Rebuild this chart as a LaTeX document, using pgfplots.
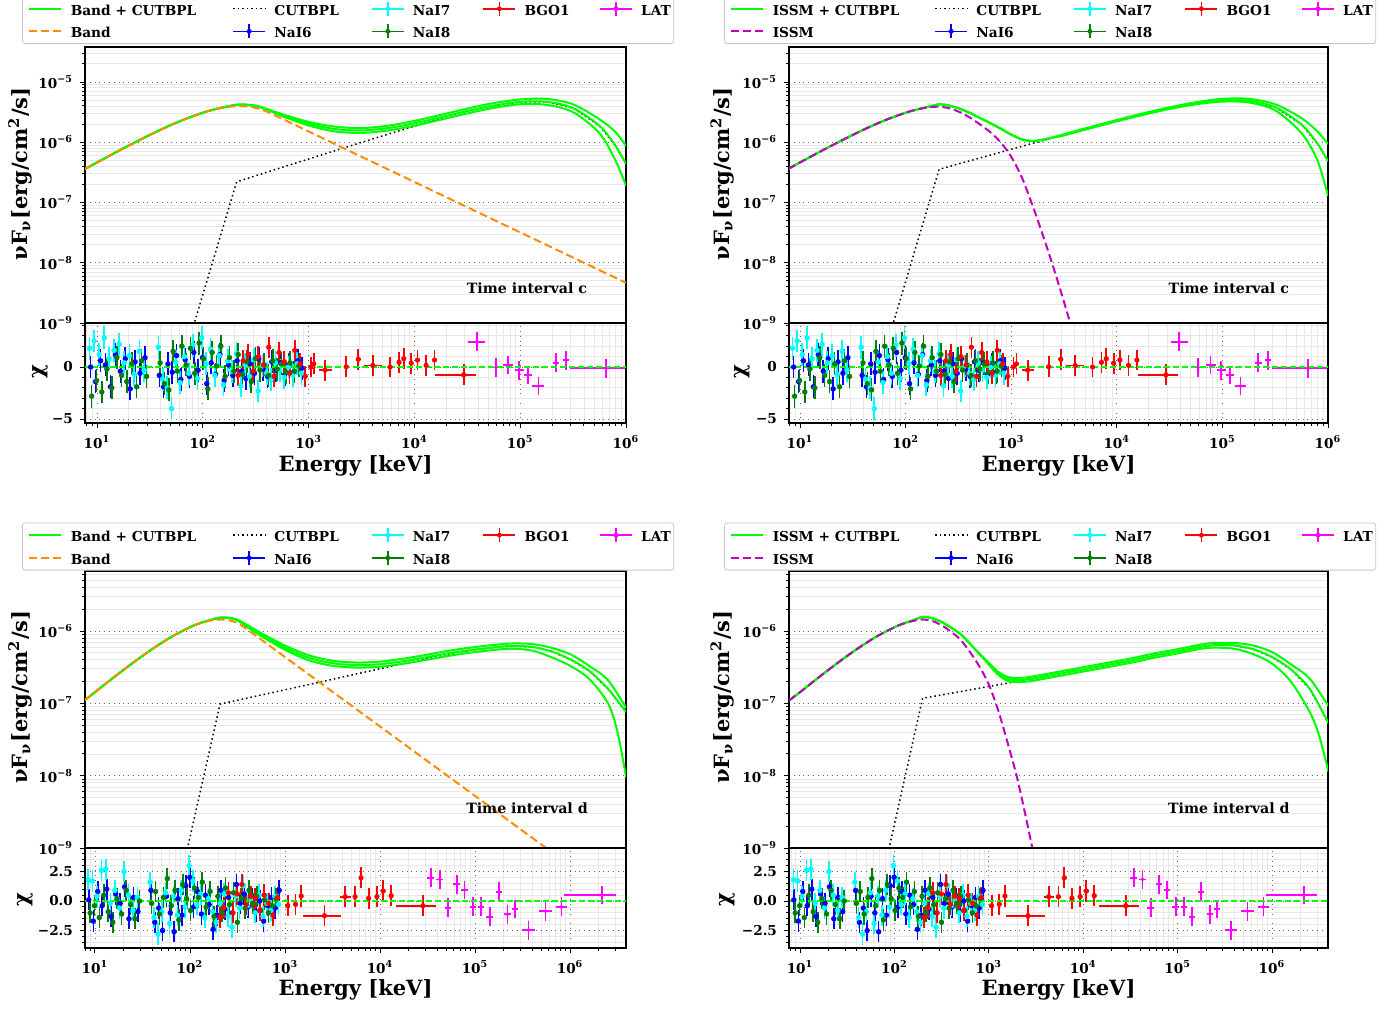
\documentclass[border=0pt]{standalone}
\usepackage{fontspec}
\setmainfont{DejaVu Serif}
\usepackage{pgfplots}
\pgfplotsset{compat=1.18}
\usepackage{pgfplotstable}

\definecolor{cLime}{HTML}{00FF00}
\definecolor{cOrange}{HTML}{FF8C00}
\definecolor{cMagD}{HTML}{BF00BF}
\definecolor{cBlue}{HTML}{0000FF}
\definecolor{cCyan}{HTML}{00FFFF}
\definecolor{cDGreen}{HTML}{008000}
\definecolor{cRed}{HTML}{FF0000}
\definecolor{cMag}{HTML}{FF00FF}

\newcommand\tickfont{\fontsize{6.8}{7}\selectfont\bfseries}
\newcommand\legfont{\fontsize{6.85}{8}\selectfont\bfseries}
\newcommand\labfont{\fontsize{10.5}{12}\selectfont\bfseries}
\newcommand\tifont{\fontsize{7.1}{8}\selectfont\bfseries}
\newcommand\tp[1]{10\textsuperscript{#1}}
\newcommand\lt[2]{\makebox[#1][l]{\hspace{4.2pt}\rule[-3.2pt]{0pt}{11pt}#2}}

\tikzset{
  gl/.style={cLime, line width=1pt, smooth, tension=0.5},
  ctl/.style={black, line width=0.75pt, dash pattern=on 0.75pt off 1.5pt},
  bnd/.style={cOrange, line width=1pt, dash pattern=on 4pt off 2pt, smooth, tension=0.5},
  ism/.style={cMagD, line width=1pt, dash pattern=on 4pt off 2pt, smooth, tension=0.5},
  zl/.style={cLime, line width=0.9pt, dash pattern=on 3pt off 1.5pt},
}

\newcommand\legA{%
  \addlegendimage{legend image code/.code={\draw[cLime, line width=1pt] (0pt,0pt) -- (16pt,0pt);}}
  \addlegendimage{legend image code/.code={\draw[black, line width=0.75pt, dash pattern=on 0.75pt off 1.5pt] (0pt,0pt) -- (16pt,0pt);}}
  \addlegendimage{legend image code/.code={\draw[cCyan, line width=0.8pt] (0pt,0pt) -- (16pt,0pt); \draw[cCyan, line width=0.8pt] (8pt,-3.5pt) -- (8pt,3.5pt); \fill[cCyan] (8pt,0pt) circle (1pt);}}
  \addlegendimage{legend image code/.code={\draw[cRed, line width=0.8pt] (0pt,0pt) -- (16pt,0pt); \draw[cRed, line width=0.8pt] (8pt,-3.5pt) -- (8pt,3.5pt); \fill[cRed] (8pt,0pt) circle (1pt);}}
  \addlegendimage{legend image code/.code={\draw[cMag, line width=0.8pt] (0pt,0pt) -- (16pt,0pt); \draw[cMag, line width=0.8pt] (8pt,-3.5pt) -- (8pt,3.5pt); \fill[cMag] (8pt,0pt) circle (1pt);}}
}
\newcommand\legBand{\addlegendimage{legend image code/.code={\draw[cOrange, line width=1pt, dash pattern=on 4pt off 2pt] (0pt,0pt) -- (16pt,0pt);}}}
\newcommand\legIssm{\addlegendimage{legend image code/.code={\draw[cMagD, line width=1pt, dash pattern=on 4pt off 2pt] (0pt,0pt) -- (16pt,0pt);}}}
\newcommand\legB{%
  \addlegendimage{legend image code/.code={\draw[cBlue, line width=0.8pt] (0pt,0pt) -- (16pt,0pt); \draw[cBlue, line width=0.8pt] (8pt,-3.5pt) -- (8pt,3.5pt); \fill[cBlue] (8pt,0pt) circle (1pt);}}
  \addlegendimage{legend image code/.code={\draw[cDGreen, line width=0.8pt] (0pt,0pt) -- (16pt,0pt); \draw[cDGreen, line width=0.8pt] (8pt,-3.5pt) -- (8pt,3.5pt); \fill[cDGreen] (8pt,0pt) circle (1pt);}}
  \addlegendimage{empty legend}
  \addlegendimage{empty legend}
}

% ---------- residuals, time interval c ----------
\pgfplotstableread{
E r
8.7 0.0
9.7 -1.4
10.8 0.6
12.0 0.2
13.4 -1.9
14.9 1.2
16.6 -0.4
18.5 0.8
20.6 -2.1
22.9 0.5
25.5 -0.6
28.4 0.9
38.8 -0.8
42.6 -1.9
46.8 0.3
51.4 -0.5
56.5 1.1
62.0 -1.2
68.1 0.7
74.8 -0.9
82.2 1.4
90.3 -0.3
99.3 0.9
109 -1.6
120 0.4
132 -0.7
145 1.2
159 -1.3
175 0.2
192 -0.8
211 0.6
232 -0.4
255 -1.1
280 0.3
308 -0.6
338 0.8
372 -0.2
409 -0.9
449 0.5
493 -0.3
542 0.4
596 -0.7
655 0.2
719 -0.5
790 0.6
868 -0.1
}\cSix
\pgfplotstableread{
E r
8.5 1.8
9.4 2.5
10.5 1.2
11.7 2.8
13.0 0.8
14.5 1.6
16.2 2.2
18.1 0.4
20.2 1.1
22.5 -0.7
25.1 1.5
27.9 -0.3
38.0 1.9
41.8 -1.2
46.0 -2.0
50.5 -4.0
55.5 0.5
61.0 -1.5
67.0 1.0
73.6 -0.6
80.9 2.1
88.9 -1.1
97.7 2.8
107.4 0.3
118 1.7
130 -0.8
143 1.1
157 -1.7
172 0.6
189 -0.4
208 1.3
229 -1.8
251 0.2
276 -0.9
303 0.7
333 -2.3
366 0.1
402 -0.6
442 -1.2
486 0.4
534 -0.3
587 -1.0
645 0.0
709 -0.8
779 0.3
856 -0.6
}\cSeven
\pgfplotstableread{
E r
8.9 -2.8
9.9 -1.3
11.1 -2.4
12.4 -0.2
13.8 -2.0
15.4 0.9
17.1 -0.8
19.1 -1.4
21.3 0.3
23.7 -1.9
26.4 0.6
29.4 -0.9
39.5 0.4
43.4 -1.6
47.7 -2.2
52.4 1.5
57.6 -0.4
63.3 2.0
69.5 0.2
76.4 1.8
84.0 -0.6
92.3 2.3
101.4 0.8
111.5 -2.1
122.5 1.4
134.6 0.1
148 2.0
162.6 -0.9
178.7 0.9
196.4 -0.4
215.8 1.2
237 -0.7
261 0.5
287 -1.4
315 0.8
346 -0.3
380 0.2
418 -0.8
459 0.6
504 -0.2
554 0.3
609 -0.5
669 0.4
735 -0.4
808 0.1
}\cEight
\pgfplotstableread{
E r em ep
215 -0.8 6 6
240 0.6 7 7
268 1.2 8 8
300 -0.4 9 9
335 1.0 10 10
375 0.2 11 11
420 1.9 12 12
470 -0.9 14 14
525 1.4 15 15
590 0.5 17 17
660 -0.6 19 19
740 1.6 21 21
830 0.3 24 24
930 -0.9 27 27
1050 0.0 40 40
1120 0.3 45 45
1430 -0.3 170 230
2265 0.03 120 130
2950 0.74 150 160
4040 0.15 730 860
5890 0.0 300 320
7160 0.45 350 370
7940 0.8 380 400
9330 0.37 450 470
10700 0.67 500 530
12900 0.16 620 650
15500 0.67 750 780
29200 -0.75 13400 8800
}\cBGO
\pgfplotstableread{
E r em ep
38800 2.43 6400 8000
58900 -0.05 9000 11000
77300 0.19 8000 9000
97700 -0.32 9000 10000
117500 -0.77 10000 12000
148600 -1.83 18000 20000
217800 0.42 15000 17000
269200 0.64 18000 20000
645700 -0.13 350000 330000
}\cLAT

% ---------- residuals, time interval d ----------
\pgfplotstableread{
E r
8.6 0.1
9.6 -1.7
10.7 0.8
11.9 -0.4
13.3 1.0
14.8 -1.3
16.5 0.6
18.4 -0.2
20.5 1.2
22.8 -1.5
25.4 0.3
28.3 -0.9
38.8 0.9
42.6 -1.8
46.8 -0.6
51.4 -2.5
56.5 0.4
62.0 -1.0
68.1 -2.6
74.8 0.2
82.2 -1.2
90.3 1.3
99.3 2.0
109 -0.5
120 0.8
132 -1.1
145 0.5
159 -0.3
175 -2.4
192 -1.2
211 0.9
232 -0.7
255 0.3
280 -1.0
308 1.4
338 -0.2
372 0.6
409 -0.5
449 0.2
493 -0.9
542 0.0
596 -1.7
655 -0.4
719 0.3
790 -0.6
868 0.9
}\dSix
\pgfplotstableread{
E r
8.5 1.8
9.4 1.7
10.5 0.4
11.7 2.6
13.0 2.7
14.5 -0.2
16.2 0.9
18.1 -0.6
20.2 2.5
22.5 0.5
25.1 -0.8
27.9 0.3
38.0 1.6
41.8 -1.4
46.0 -2.8
50.5 -0.9
55.5 0.7
61.0 -1.9
67.0 0.4
73.6 -1.2
80.9 0.9
88.9 -0.5
97.7 3.0
107.4 1.7
118 -0.3
130 0.6
143 -1.4
157 0.2
172 -0.9
189 -1.8
208 -0.2
229 0.6
251 -1.3
276 -2.2
303 0.4
333 -0.6
366 1.3
402 -0.4
442 0.2
486 -1.0
534 0.5
587 -1.3
645 -0.2
709 -0.8
779 0.4
856 -0.3
}\dSeven
\pgfplotstableread{
E r
8.9 -1.0
9.9 -0.4
11.1 -1.4
12.4 0.5
13.8 -0.9
15.4 -1.8
17.1 0.2
19.1 -1.1
21.3 0.9
23.7 -0.3
26.4 -1.5
29.4 0.0
39.5 -0.2
43.4 0.8
47.7 -1.1
52.4 0.3
57.6 1.9
63.3 -0.4
69.5 0.9
76.4 -1.6
84.0 1.4
92.3 0.2
101.4 -0.8
111.5 1.1
122.5 0.3
134.6 1.6
148 -0.5
162.6 0.8
178.7 -1.3
196.4 0.4
215.8 -0.9
237 1.1
261 -0.3
287 0.7
315 -1.8
346 0.2
380 -0.6
418 0.9
459 -0.2
504 0.4
554 -0.8
609 0.1
669 -1.0
735 -0.4
808 0.2
}\dEight
\pgfplotstableread{
E r em ep
205 -1.4 6 6
228 -0.6 7 7
254 0.7 8 8
283 -1.0 9 9
315 0.6 10 10
351 1.4 11 11
391 -0.3 12 12
436 0.4 13 13
486 0.2 15 15
541 -0.8 16 16
603 0.5 18 18
672 -0.2 20 20
748 -1.2 22 22
834 0.3 25 25
1070 -0.4 60 60
1290 -0.28 70 70
1480 0.42 80 80
2600 -1.24 1070 1290
4300 0.37 500 600
5460 0.37 300 300
6310 1.97 350 350
7590 0.23 400 400
9270 0.37 500 500
10800 0.85 600 600
13100 0.45 700 700
28200 -0.4 13400 10700
}\dBGO
\pgfplotstableread{
E r em ep
34300 1.98 3000 3000
42500 1.83 3500 3500
51800 -0.56 4000 4000
64000 1.41 5000 5000
77300 0.93 6000 6000
95700 -0.48 7500 7500
116400 -0.48 9000 9000
142900 -1.33 11000 11000
178600 0.79 14000 14000
219300 -1.13 17000 17000
262400 -0.68 20000 20000
365600 -2.46 50000 60000
550800 -0.85 83000 95000
811000 -0.48 103000 122000
2168000 0.51 1297000 852000
}\dLAT

\begin{document}
\begin{tikzpicture}
\useasboundingbox (0pt,0pt) rectangle (698.5pt,-505pt);

% ================= TOP LEFT =================
\begin{axis}[scale only axis, xmode=log, ymode=log, tick align=outside,
  major tick length=2.5pt, minor tick length=1.4pt,
  tick style={black, line width=0.5pt}, axis line style={line width=0.8pt},
  tick label style={font=\tickfont},
  major grid style={dotted, black!60, line width=0.45pt}, minor grid style={black!9, line width=0.4pt},
  ytick pos=left, xtick=\empty, ymajorgrids, yminorgrids,
  minor ytick={2e-9,3e-9,4e-9,5e-9,6e-9,7e-9,8e-9,9e-9,2e-8,3e-8,4e-8,5e-8,6e-8,7e-8,8e-8,9e-8,2e-7,3e-7,4e-7,5e-7,6e-7,7e-7,8e-7,9e-7,2e-6,3e-6,4e-6,5e-6,6e-6,7e-6,8e-6,9e-6,2e-5,3e-5},
  ylabel={νF\textsubscript{ν}[erg/cm\textsuperscript{2}/s]},
  ylabel style={font=\labfont, anchor=center, at={(axis description cs:-0.12,0.54)}},
  legend columns=5, legend cell align=left,
  legend style={draw=black!22, rounded corners=1.5pt, fill=white, inner xsep=3pt, inner ysep=1.5pt,
    column sep=0pt, row sep=2pt, font=\legfont, nodes={inner sep=0pt}, anchor=north west, at={(-0.1165,1.1847)}},
  at={(42.5pt,-23.5pt)}, anchor=north west, width=270.5pt, height=138pt,
  xmin=7.70, xmax=1e6, ymin=1e-9, ymax=3.81e-5,
  ytick={1e-9,1e-8,1e-7,1e-6,1e-5}, yticklabels={\tp{−9},\tp{−8},\tp{−7},\tp{−6},\tp{−5}}]
\legA
\legBand
\legB
\legend{\lt{85pt}{Band + CUTBPL},\lt{52.5pt}{CUTBPL},\lt{39pt}{NaI7},\lt{41.5pt}{BGO1},\lt{17.5pt}{LAT},\lt{85pt}{Band},\lt{52.5pt}{NaI6},\lt{39pt}{NaI8},\lt{41.5pt}{},\lt{17.5pt}{}}
\addplot[ctl, forget plot] coordinates {(79.4,7.64e-10) (208.9,2.20e-7) (316.2,2.78e-7) (562.3,3.84e-7) (1000,5.27e-7) (1778,7.26e-7) (3162,9.95e-7) (5623,1.36e-6) (1e4,1.85e-6) (17783,2.47e-6) (31623,3.22e-6) (56234,4.02e-6) (1e5,4.65e-6) (177828,4.68e-6) (316228,3.68e-6) (562341,1.87e-6) (794328,8.81e-7) (1e6,4.35e-7)};
\addplot[gl, forget plot] coordinates {(7.71,3.60e-7) (10,4.62e-7) (15.85,7.13e-7) (25.12,1.084e-6) (39.81,1.61e-6) (63.1,2.30e-6) (100,3.09e-6) (125.9,3.48e-6) (158.5,3.82e-6) (208.9,4.18e-6) (251.2,4.20e-6) (316.2,4.06e-6) (398.1,3.59e-6) (562.3,2.92e-6) (1000,2.18e-6) (1778,1.815e-6) (3162,1.72e-6) (5623,1.88e-6) (1e4,2.26e-6) (17783,2.85e-6) (31623,3.62e-6) (56234,4.47e-6) (1e5,5.13e-6) (177828,5.25e-6) (316228,4.27e-6) (562341,2.40e-6) (794328,1.48e-6) (1e6,8.71e-7)};
\addplot[gl, forget plot] coordinates {(7.71,3.60e-7) (10,4.62e-7) (15.85,7.13e-7) (25.12,1.084e-6) (39.81,1.61e-6) (63.1,2.30e-6) (100,3.09e-6) (125.9,3.48e-6) (158.5,3.82e-6) (208.9,4.18e-6) (251.2,4.20e-6) (316.2,4.00e-6) (398.1,3.56e-6) (562.3,2.82e-6) (1000,2.03e-6) (1778,1.656e-6) (3162,1.57e-6) (5623,1.72e-6) (1e4,2.065e-6) (17783,2.60e-6) (31623,3.30e-6) (56234,4.07e-6) (1e5,4.68e-6) (177828,4.69e-6) (316228,3.68e-6) (562341,1.87e-6) (794328,8.81e-7) (1e6,4.35e-7)};
\addplot[gl, forget plot] coordinates {(7.71,3.60e-7) (10,4.62e-7) (15.85,7.13e-7) (25.12,1.084e-6) (39.81,1.61e-6) (63.1,2.30e-6) (100,3.09e-6) (125.9,3.48e-6) (158.5,3.82e-6) (208.9,4.18e-6) (251.2,4.20e-6) (316.2,3.94e-6) (398.1,3.53e-6) (562.3,2.72e-6) (1000,1.90e-6) (1778,1.51e-6) (3162,1.43e-6) (5623,1.567e-6) (1e4,1.88e-6) (17783,2.37e-6) (31623,3.01e-6) (56234,3.72e-6) (1e5,4.27e-6) (177828,4.17e-6) (316228,3.16e-6) (562341,1.41e-6) (794328,5.01e-7) (1e6,1.905e-7)};
\addplot[bnd, forget plot] coordinates {(7.71,3.60e-7) (10,4.62e-7) (15.85,7.13e-7) (25.12,1.084e-6) (39.81,1.61e-6) (63.1,2.30e-6) (100,3.09e-6) (125.9,3.47e-6) (158.5,3.78e-6) (199.5,3.95e-6) (251.2,3.95e-6) (316.2,3.72e-6) (411,3.17e-6) (1000,1.51e-6) (1e4,2.19e-7) (1e5,3.19e-8) (1e6,4.65e-9)};
\node[font=\tifont] at (rel axis cs:0.817,0.127) {Time interval c};
\end{axis}

\begin{axis}[scale only axis, xmode=log, tick align=outside,
  major tick length=2.5pt, minor tick length=1.4pt,
  tick style={black, line width=0.5pt}, axis line style={line width=0.8pt},
  tick label style={font=\tickfont},
  major grid style={dotted, black!60, line width=0.45pt}, minor grid style={black!9, line width=0.4pt},
  xtick pos=bottom, ytick pos=left, grid=both,
  xtick={10,100,1000,10000,100000,1000000}, xticklabels={\tp{1},\tp{2},\tp{3},\tp{4},\tp{5},\tp{6}},
  minor xtick={8,9,20,30,40,50,60,70,80,90,200,300,400,500,600,700,800,900,2000,3000,4000,5000,6000,7000,8000,9000,2e4,3e4,4e4,5e4,6e4,7e4,8e4,9e4,2e5,3e5,4e5,5e5,6e5,7e5,8e5,9e5},
  xlabel={Energy [keV]}, xlabel style={font=\labfont, at={(axis description cs:0.5,-0.43)}, anchor=center},
  ylabel={χ}, ylabel style={font=\labfont, anchor=center, at={(axis description cs:-0.083,0.51)}},
  ymin=-5.38, ymax=4.23, ytick={-5,0}, yticklabels={−5,0}, minor ytick={-4,-3,-2,-1,1,2,3,4},
  at={(42.5pt,-161.5pt)}, anchor=north west, width=270.5pt, height=50pt, xmin=7.70, xmax=1e6]
\addplot[only marks, mark=*, mark size=1.15pt, color=cBlue, error bars/.cd, y dir=both, y fixed=1.1, error mark=none, error bar style={line width=0.8pt,cBlue}] table[x=E,y=r] {\cSix};
\addplot[only marks, mark=*, mark size=1.15pt, color=cCyan, error bars/.cd, y dir=both, y fixed=1.1, error mark=none, error bar style={line width=0.8pt,cCyan}] table[x=E,y=r] {\cSeven};
\addplot[only marks, mark=*, mark size=1.15pt, color=cDGreen, error bars/.cd, y dir=both, y fixed=1.1, error mark=none, error bar style={line width=0.8pt,cDGreen}] table[x=E,y=r] {\cEight};
\addplot[only marks, mark=*, mark size=1.1pt, color=cRed, error bars/.cd, x dir=both, x explicit, y dir=both, y fixed=1.0, error mark=none, error bar style={line width=0.9pt,cRed}] table[x=E,y=r,x error minus=em,x error plus=ep] {\cBGO};
\addplot[only marks, mark=*, mark size=0.7pt, color=cMag, error bars/.cd, x dir=both, x explicit, y dir=both, y fixed=0.9, error mark=none, error bar style={line width=0.9pt,cMag}] table[x=E,y=r,x error minus=em,x error plus=ep] {\cLAT};
\addplot[zl] coordinates {(5,0) (5e6,0)};
\end{axis}

% ================= TOP RIGHT =================
\begin{axis}[scale only axis, xmode=log, ymode=log, tick align=outside,
  major tick length=2.5pt, minor tick length=1.4pt,
  tick style={black, line width=0.5pt}, axis line style={line width=0.8pt},
  tick label style={font=\tickfont},
  major grid style={dotted, black!60, line width=0.45pt}, minor grid style={black!9, line width=0.4pt},
  ytick pos=left, xtick=\empty, ymajorgrids, yminorgrids,
  minor ytick={2e-9,3e-9,4e-9,5e-9,6e-9,7e-9,8e-9,9e-9,2e-8,3e-8,4e-8,5e-8,6e-8,7e-8,8e-8,9e-8,2e-7,3e-7,4e-7,5e-7,6e-7,7e-7,8e-7,9e-7,2e-6,3e-6,4e-6,5e-6,6e-6,7e-6,8e-6,9e-6,2e-5,3e-5},
  ylabel={νF\textsubscript{ν}[erg/cm\textsuperscript{2}/s]},
  ylabel style={font=\labfont, anchor=center, at={(axis description cs:-0.124,0.54)}},
  legend columns=5, legend cell align=left,
  legend style={draw=black!22, rounded corners=1.5pt, fill=white, inner xsep=3pt, inner ysep=1.5pt,
    column sep=0pt, row sep=2pt, font=\legfont, nodes={inner sep=0pt}, anchor=north west, at={(-0.1206,1.1847)}},
  at={(394.5pt,-23.5pt)}, anchor=north west, width=269.5pt, height=138pt,
  xmin=7.87, xmax=1e6, ymin=1e-9, ymax=3.81e-5,
  ytick={1e-9,1e-8,1e-7,1e-6,1e-5}, yticklabels={\tp{−9},\tp{−8},\tp{−7},\tp{−6},\tp{−5}}]
\legA
\legIssm
\legB
\legend{\lt{85pt}{ISSM + CUTBPL},\lt{52.5pt}{CUTBPL},\lt{39pt}{NaI7},\lt{41.5pt}{BGO1},\lt{17.5pt}{LAT},\lt{85pt}{ISSM},\lt{52.5pt}{NaI6},\lt{39pt}{NaI8},\lt{41.5pt}{},\lt{17.5pt}{}}
\addplot[ctl, forget plot] coordinates {(70.8,6.37e-10) (207.5,3.55e-7) (316.2,4.37e-7) (562.3,5.77e-7) (1000,7.64e-7) (1778,1.009e-6) (3162,1.33e-6) (5623,1.75e-6) (1e4,2.28e-6) (17783,2.94e-6) (31623,3.69e-6) (56234,4.45e-6) (1e5,4.99e-6) (177828,4.90e-6) (316228,3.82e-6) (562341,1.96e-6) (794328,9.53e-7) (1e6,4.84e-7)};
\addplot[gl, forget plot] coordinates {(7.71,3.60e-7) (10,4.62e-7) (15.85,7.13e-7) (25.12,1.084e-6) (39.81,1.61e-6) (63.1,2.30e-6) (100,3.09e-6) (125.9,3.47e-6) (158.5,3.83e-6) (207.5,4.25e-6) (251.2,4.10e-6) (316.2,3.67e-6) (398.1,3.12e-6) (501.2,2.54e-6) (631,2.09e-6) (794.3,1.68e-6) (1000,1.34e-6) (1259,1.117e-6) (1585,1.047e-6) (1995,1.099e-6) (2512,1.21e-6) (3162,1.36e-6) (5623,1.795e-6) (1e4,2.34e-6) (17783,3.02e-6) (31623,3.80e-6) (56234,4.62e-6) (1e5,5.25e-6) (177828,5.25e-6) (316228,4.27e-6) (562341,2.51e-6) (794328,1.51e-6) (1e6,9.33e-7)};
\addplot[gl, forget plot] coordinates {(7.71,3.60e-7) (10,4.62e-7) (15.85,7.13e-7) (25.12,1.084e-6) (39.81,1.61e-6) (63.1,2.30e-6) (100,3.09e-6) (125.9,3.47e-6) (158.5,3.83e-6) (207.5,4.25e-6) (251.2,4.10e-6) (316.2,3.67e-6) (398.1,3.12e-6) (501.2,2.54e-6) (631,2.09e-6) (794.3,1.68e-6) (1000,1.34e-6) (1259,1.117e-6) (1585,1.047e-6) (1995,1.099e-6) (2512,1.205e-6) (3162,1.33e-6) (5623,1.75e-6) (1e4,2.28e-6) (17783,2.94e-6) (31623,3.69e-6) (56234,4.45e-6) (1e5,4.99e-6) (177828,4.90e-6) (316228,3.82e-6) (562341,1.96e-6) (794328,9.53e-7) (1e6,4.84e-7)};
\addplot[gl, forget plot] coordinates {(7.71,3.60e-7) (10,4.62e-7) (15.85,7.13e-7) (25.12,1.084e-6) (39.81,1.61e-6) (63.1,2.30e-6) (100,3.09e-6) (125.9,3.47e-6) (158.5,3.83e-6) (207.5,4.25e-6) (251.2,4.10e-6) (316.2,3.67e-6) (398.1,3.12e-6) (501.2,2.54e-6) (631,2.09e-6) (794.3,1.68e-6) (1000,1.34e-6) (1259,1.117e-6) (1585,1.047e-6) (1995,1.099e-6) (2512,1.20e-6) (3162,1.30e-6) (5623,1.706e-6) (1e4,2.22e-6) (17783,2.85e-6) (31623,3.57e-6) (56234,4.27e-6) (1e5,4.73e-6) (177828,4.57e-6) (316228,3.39e-6) (562341,1.41e-6) (794328,5.01e-7) (1e6,1.29e-7)};
\addplot[ism, forget plot] coordinates {(7.71,3.60e-7) (10,4.62e-7) (15.85,7.13e-7) (25.12,1.084e-6) (39.81,1.61e-6) (63.1,2.30e-6) (100,3.09e-6) (125.9,3.47e-6) (158.5,3.76e-6) (199.5,3.89e-6) (251.2,3.72e-6) (316.2,3.24e-6) (398.1,2.63e-6) (501.2,2.00e-6) (631,1.48e-6) (794.3,1.0e-6) (1000,5.75e-7) (1259,2.63e-7) (1585,9.12e-8) (1995,2.88e-8) (2512,8.32e-9) (3162,2.24e-9) (3981,5.62e-10)};
\node[font=\tifont] at (rel axis cs:0.816,0.127) {Time interval c};
\end{axis}

\begin{axis}[scale only axis, xmode=log, tick align=outside,
  major tick length=2.5pt, minor tick length=1.4pt,
  tick style={black, line width=0.5pt}, axis line style={line width=0.8pt},
  tick label style={font=\tickfont},
  major grid style={dotted, black!60, line width=0.45pt}, minor grid style={black!9, line width=0.4pt},
  xtick pos=bottom, ytick pos=left, grid=both,
  xtick={10,100,1000,10000,100000,1000000}, xticklabels={\tp{1},\tp{2},\tp{3},\tp{4},\tp{5},\tp{6}},
  minor xtick={8,9,20,30,40,50,60,70,80,90,200,300,400,500,600,700,800,900,2000,3000,4000,5000,6000,7000,8000,9000,2e4,3e4,4e4,5e4,6e4,7e4,8e4,9e4,2e5,3e5,4e5,5e5,6e5,7e5,8e5,9e5},
  xlabel={Energy [keV]}, xlabel style={font=\labfont, at={(axis description cs:0.5,-0.43)}, anchor=center},
  ylabel={χ}, ylabel style={font=\labfont, anchor=center, at={(axis description cs:-0.087,0.51)}},
  ymin=-5.38, ymax=4.23, ytick={-5,0}, yticklabels={−5,0}, minor ytick={-4,-3,-2,-1,1,2,3,4},
  at={(394.5pt,-161.5pt)}, anchor=north west, width=269.5pt, height=50pt, xmin=7.87, xmax=1e6]
\addplot[only marks, mark=*, mark size=1.15pt, color=cBlue, error bars/.cd, y dir=both, y fixed=1.1, error mark=none, error bar style={line width=0.8pt,cBlue}] table[x=E,y=r] {\cSix};
\addplot[only marks, mark=*, mark size=1.15pt, color=cCyan, error bars/.cd, y dir=both, y fixed=1.1, error mark=none, error bar style={line width=0.8pt,cCyan}] table[x=E,y=r] {\cSeven};
\addplot[only marks, mark=*, mark size=1.15pt, color=cDGreen, error bars/.cd, y dir=both, y fixed=1.1, error mark=none, error bar style={line width=0.8pt,cDGreen}] table[x=E,y=r] {\cEight};
\addplot[only marks, mark=*, mark size=1.1pt, color=cRed, error bars/.cd, x dir=both, x explicit, y dir=both, y fixed=1.0, error mark=none, error bar style={line width=0.9pt,cRed}] table[x=E,y=r,x error minus=em,x error plus=ep] {\cBGO};
\addplot[only marks, mark=*, mark size=0.7pt, color=cMag, error bars/.cd, x dir=both, x explicit, y dir=both, y fixed=0.9, error mark=none, error bar style={line width=0.9pt,cMag}] table[x=E,y=r,x error minus=em,x error plus=ep] {\cLAT};
\addplot[zl] coordinates {(5,0) (5e6,0)};
\end{axis}

% ================= BOTTOM LEFT =================
\begin{axis}[scale only axis, xmode=log, ymode=log, tick align=outside,
  major tick length=2.5pt, minor tick length=1.4pt,
  tick style={black, line width=0.5pt}, axis line style={line width=0.8pt},
  tick label style={font=\tickfont},
  major grid style={dotted, black!60, line width=0.45pt}, minor grid style={black!9, line width=0.4pt},
  ytick pos=left, xtick=\empty, ymajorgrids, yminorgrids,
  minor ytick={2e-9,3e-9,4e-9,5e-9,6e-9,7e-9,8e-9,9e-9,2e-8,3e-8,4e-8,5e-8,6e-8,7e-8,8e-8,9e-8,2e-7,3e-7,4e-7,5e-7,6e-7,7e-7,8e-7,9e-7,2e-6,3e-6,4e-6,5e-6,6e-6},
  ylabel={νF\textsubscript{ν}[erg/cm\textsuperscript{2}/s]},
  ylabel style={font=\labfont, anchor=center, at={(axis description cs:-0.12,0.545)}},
  legend columns=5, legend cell align=left,
  legend style={draw=black!22, rounded corners=1.5pt, fill=white, inner xsep=3pt, inner ysep=1.5pt,
    column sep=0pt, row sep=2pt, font=\legfont, nodes={inner sep=0pt}, anchor=north west, at={(-0.1165,1.1751)}},
  at={(42.5pt,-285.5pt)}, anchor=north west, width=270.5pt, height=138.5pt,
  xmin=7.85, xmax=3.88e6, ymin=1e-9, ymax=6.76e-6,
  ytick={1e-9,1e-8,1e-7,1e-6}, yticklabels={\tp{−9},\tp{−8},\tp{−7},\tp{−6}}]
\legA
\legBand
\legB
\legend{\lt{85pt}{Band + CUTBPL},\lt{52.5pt}{CUTBPL},\lt{39pt}{NaI7},\lt{41.5pt}{BGO1},\lt{17.5pt}{LAT},\lt{85pt}{Band},\lt{52.5pt}{NaI6},\lt{39pt}{NaI8},\lt{41.5pt}{},\lt{17.5pt}{}}
\addplot[ctl, forget plot] coordinates {(89.1,7.24e-10) (207,9.77e-8) (398.1,1.18e-7) (1000,1.54e-7) (1778,1.82e-7) (3162,2.15e-7) (5623,2.55e-7) (1e4,3.01e-7) (17783,3.56e-7) (31623,4.20e-7) (56234,4.90e-7) (1e5,5.50e-7) (177828,6.03e-7) (251189,6.21e-7) (398107,6.03e-7) (630957,5.25e-7) (1e6,4.07e-7) (1584893,2.82e-7) (2511886,1.585e-7) (3890451,7.59e-8)};
\addplot[gl, forget plot] coordinates {(7.85,1.109e-7) (10,1.43e-7) (15.85,2.30e-7) (25.12,3.64e-7) (39.81,5.60e-7) (63.1,8.24e-7) (100,1.13e-6) (125.9,1.28e-6) (158.5,1.403e-6) (199.5,1.52e-6) (251.2,1.524e-6) (316.2,1.43e-6) (398.1,1.216e-6) (562.3,9.33e-7) (1000,6.31e-7) (1778,4.62e-7) (3162,3.89e-7) (5623,3.67e-7) (1e4,3.78e-7) (17783,4.16e-7) (31623,4.72e-7) (56234,5.41e-7) (1e5,6.01e-7) (177828,6.53e-7) (251189,6.73e-7) (398107,6.61e-7) (630957,5.89e-7) (1e6,4.79e-7) (1584893,3.31e-7) (2511886,2.09e-7) (3890451,8.71e-8)};
\addplot[gl, forget plot] coordinates {(7.85,1.109e-7) (10,1.43e-7) (15.85,2.30e-7) (25.12,3.64e-7) (39.81,5.60e-7) (63.1,8.24e-7) (100,1.13e-6) (125.9,1.28e-6) (158.5,1.403e-6) (199.5,1.52e-6) (251.2,1.524e-6) (316.2,1.416e-6) (398.1,1.175e-6) (562.3,8.91e-7) (1000,5.89e-7) (1778,4.27e-7) (3162,3.59e-7) (5623,3.39e-7) (1e4,3.48e-7) (17783,3.84e-7) (31623,4.36e-7) (56234,4.99e-7) (1e5,5.55e-7) (177828,6.03e-7) (251189,6.21e-7) (398107,6.03e-7) (630957,5.25e-7) (1e6,4.07e-7) (1584893,2.82e-7) (2511886,1.585e-7) (3890451,7.59e-8)};
\addplot[gl, forget plot] coordinates {(7.85,1.109e-7) (10,1.43e-7) (15.85,2.30e-7) (25.12,3.64e-7) (39.81,5.60e-7) (63.1,8.24e-7) (100,1.13e-6) (125.9,1.28e-6) (158.5,1.403e-6) (199.5,1.52e-6) (251.2,1.524e-6) (316.2,1.403e-6) (398.1,1.135e-6) (562.3,8.51e-7) (1000,5.50e-7) (1778,3.94e-7) (3162,3.31e-7) (5623,3.13e-7) (1e4,3.21e-7) (17783,3.54e-7) (31623,4.02e-7) (56234,4.60e-7) (1e5,5.12e-7) (177828,5.56e-7) (251189,5.69e-7) (398107,5.37e-7) (630957,4.37e-7) (1e6,3.31e-7) (1584893,2.19e-7) (2511886,1.0e-7) (3162278,3.98e-8) (3890451,9.55e-9)};
\addplot[bnd, forget plot] coordinates {(7.85,1.109e-7) (10,1.43e-7) (15.85,2.30e-7) (25.12,3.64e-7) (39.81,5.60e-7) (63.1,8.24e-7) (100,1.13e-6) (125.9,1.274e-6) (158.5,1.384e-6) (199.5,1.442e-6) (251.2,1.422e-6) (316.2,1.288e-6) (398.1,1.059e-6) (1000,4.37e-7) (1e4,4.79e-8) (1e5,5.25e-9) (630957,8.91e-10)};
\node[font=\tifont] at (rel axis cs:0.817,0.144) {Time interval d};
\end{axis}

\begin{axis}[scale only axis, xmode=log, tick align=outside,
  major tick length=2.5pt, minor tick length=1.4pt,
  tick style={black, line width=0.5pt}, axis line style={line width=0.8pt},
  tick label style={font=\tickfont},
  major grid style={dotted, black!60, line width=0.45pt}, minor grid style={black!9, line width=0.4pt},
  xtick pos=bottom, ytick pos=left, grid=both,
  xtick={10,100,1000,10000,100000,1000000}, xticklabels={\tp{1},\tp{2},\tp{3},\tp{4},\tp{5},\tp{6}},
  minor xtick={8,9,20,30,40,50,60,70,80,90,200,300,400,500,600,700,800,900,2000,3000,4000,5000,6000,7000,8000,9000,2e4,3e4,4e4,5e4,6e4,7e4,8e4,9e4,2e5,3e5,4e5,5e5,6e5,7e5,8e5,9e5,2e6,3e6},
  xlabel={Energy [keV]}, xlabel style={font=\labfont, at={(axis description cs:0.5,-0.42)}, anchor=center},
  ylabel={χ}, ylabel style={font=\labfont, anchor=center, at={(axis description cs:-0.111,0.48)}},
  ymin=-3.98, ymax=4.49, ytick={-2.5,0,2.5}, yticklabels={−2.5,0.0,2.5},
  minor ytick={-3.5,-3,-2,-1.5,-1,-0.5,0.5,1,1.5,2,3,3.5,4},
  at={(42.5pt,-424pt)}, anchor=north west, width=270.5pt, height=50pt, xmin=7.85, xmax=3.88e6]
\addplot[only marks, mark=*, mark size=1.15pt, color=cBlue, error bars/.cd, y dir=both, y fixed=0.9, error mark=none, error bar style={line width=0.8pt,cBlue}] table[x=E,y=r] {\dSix};
\addplot[only marks, mark=*, mark size=1.15pt, color=cCyan, error bars/.cd, y dir=both, y fixed=0.9, error mark=none, error bar style={line width=0.8pt,cCyan}] table[x=E,y=r] {\dSeven};
\addplot[only marks, mark=*, mark size=1.15pt, color=cDGreen, error bars/.cd, y dir=both, y fixed=0.9, error mark=none, error bar style={line width=0.8pt,cDGreen}] table[x=E,y=r] {\dEight};
\addplot[only marks, mark=*, mark size=1.1pt, color=cRed, error bars/.cd, x dir=both, x explicit, y dir=both, y fixed=0.9, error mark=none, error bar style={line width=0.9pt,cRed}] table[x=E,y=r,x error minus=em,x error plus=ep] {\dBGO};
\addplot[only marks, mark=*, mark size=0.7pt, color=cMag, error bars/.cd, x dir=both, x explicit, y dir=both, y fixed=0.8, error mark=none, error bar style={line width=0.9pt,cMag}] table[x=E,y=r,x error minus=em,x error plus=ep] {\dLAT};
\addplot[zl] coordinates {(5,0) (5e6,0)};
\end{axis}

% ================= BOTTOM RIGHT =================
\begin{axis}[scale only axis, xmode=log, ymode=log, tick align=outside,
  major tick length=2.5pt, minor tick length=1.4pt,
  tick style={black, line width=0.5pt}, axis line style={line width=0.8pt},
  tick label style={font=\tickfont},
  major grid style={dotted, black!60, line width=0.45pt}, minor grid style={black!9, line width=0.4pt},
  ytick pos=left, xtick=\empty, ymajorgrids, yminorgrids,
  minor ytick={2e-9,3e-9,4e-9,5e-9,6e-9,7e-9,8e-9,9e-9,2e-8,3e-8,4e-8,5e-8,6e-8,7e-8,8e-8,9e-8,2e-7,3e-7,4e-7,5e-7,6e-7,7e-7,8e-7,9e-7,2e-6,3e-6,4e-6,5e-6,6e-6},
  ylabel={νF\textsubscript{ν}[erg/cm\textsuperscript{2}/s]},
  ylabel style={font=\labfont, anchor=center, at={(axis description cs:-0.124,0.545)}},
  legend columns=5, legend cell align=left,
  legend style={draw=black!22, rounded corners=1.5pt, fill=white, inner xsep=3pt, inner ysep=1.5pt,
    column sep=0pt, row sep=2pt, font=\legfont, nodes={inner sep=0pt}, anchor=north west, at={(-0.1206,1.1751)}},
  at={(394.5pt,-285.5pt)}, anchor=north west, width=269.5pt, height=138.5pt,
  xmin=7.64, xmax=3.92e6, ymin=1e-9, ymax=6.76e-6,
  ytick={1e-9,1e-8,1e-7,1e-6}, yticklabels={\tp{−9},\tp{−8},\tp{−7},\tp{−6}}]
\legA
\legIssm
\legB
\legend{\lt{85pt}{ISSM + CUTBPL},\lt{52.5pt}{CUTBPL},\lt{39pt}{NaI7},\lt{41.5pt}{BGO1},\lt{17.5pt}{LAT},\lt{85pt}{ISSM},\lt{52.5pt}{NaI6},\lt{39pt}{NaI8},\lt{41.5pt}{},\lt{17.5pt}{}}
\addplot[ctl, forget plot] coordinates {(79.4,5.52e-10) (198.6,1.175e-7) (398.1,1.38e-7) (1000,1.714e-7) (3162,2.24e-7) (1e4,2.95e-7) (31623,3.89e-7) (56234,4.57e-7) (1e5,5.25e-7) (177828,6.10e-7) (251189,6.38e-7) (398107,6.31e-7) (630957,5.62e-7) (1e6,4.37e-7) (1584893,2.95e-7) (2511886,1.585e-7) (3981072,5.25e-8)};
\addplot[gl, forget plot] coordinates {(7.64,1.096e-7) (10,1.43e-7) (15.85,2.30e-7) (25.12,3.64e-7) (39.81,5.60e-7) (63.1,8.24e-7) (100,1.13e-6) (125.9,1.274e-6) (158.5,1.413e-6) (198.6,1.563e-6) (251.2,1.503e-6) (316.2,1.334e-6) (398.1,1.114e-6) (501.2,9.06e-7) (631,6.67e-7) (794.3,4.85e-7) (1000,3.63e-7) (1259,2.72e-7) (1585,2.32e-7) (1995,2.24e-7) (2512,2.29e-7) (3162,2.40e-7) (1e4,3.16e-7) (31623,4.17e-7) (56234,4.90e-7) (1e5,5.62e-7) (177828,6.53e-7) (251189,6.84e-7) (398107,6.84e-7) (630957,6.31e-7) (1e6,5.13e-7) (1584893,3.47e-7) (2511886,2.19e-7) (3981072,9.12e-8)};
\addplot[gl, forget plot] coordinates {(7.64,1.096e-7) (10,1.43e-7) (15.85,2.30e-7) (25.12,3.64e-7) (39.81,5.60e-7) (63.1,8.24e-7) (100,1.13e-6) (125.9,1.274e-6) (158.5,1.413e-6) (198.6,1.563e-6) (251.2,1.503e-6) (316.2,1.334e-6) (398.1,1.114e-6) (501.2,9.06e-7) (631,6.67e-7) (794.3,4.85e-7) (1000,3.53e-7) (1259,2.60e-7) (1585,2.19e-7) (1995,2.10e-7) (2512,2.15e-7) (3162,2.24e-7) (1e4,2.95e-7) (31623,3.89e-7) (56234,4.57e-7) (1e5,5.25e-7) (177828,6.10e-7) (251189,6.38e-7) (398107,6.31e-7) (630957,5.62e-7) (1e6,4.37e-7) (1584893,2.95e-7) (2511886,1.585e-7) (3981072,5.25e-8)};
\addplot[gl, forget plot] coordinates {(7.64,1.096e-7) (10,1.43e-7) (15.85,2.30e-7) (25.12,3.64e-7) (39.81,5.60e-7) (63.1,8.24e-7) (100,1.13e-6) (125.9,1.274e-6) (158.5,1.413e-6) (198.6,1.563e-6) (251.2,1.503e-6) (316.2,1.334e-6) (398.1,1.114e-6) (501.2,9.06e-7) (631,6.67e-7) (794.3,4.85e-7) (1000,3.43e-7) (1259,2.48e-7) (1585,2.04e-7) (1995,1.97e-7) (2512,2.00e-7) (3162,2.09e-7) (1e4,2.75e-7) (31623,3.63e-7) (56234,4.27e-7) (1e5,4.90e-7) (177828,5.69e-7) (251189,5.89e-7) (398107,5.69e-7) (630957,4.79e-7) (1e6,3.55e-7) (1584893,2.00e-7) (2511886,7.59e-8) (3162278,3.55e-8) (3981072,1.12e-8)};
\addplot[ism, forget plot] coordinates {(7.64,1.096e-7) (10,1.43e-7) (15.85,2.30e-7) (25.12,3.64e-7) (39.81,5.60e-7) (63.1,8.24e-7) (100,1.13e-6) (125.9,1.274e-6) (158.5,1.38e-6) (199.5,1.445e-6) (251.2,1.38e-6) (316.2,1.20e-6) (398.1,9.77e-7) (501.2,7.59e-7) (631,5.13e-7) (794.3,3.24e-7) (1000,1.82e-7) (1259,7.94e-8) (1585,2.82e-8) (1995,9.33e-9) (2512,2.40e-9) (3162,5.62e-10)};
\node[font=\tifont] at (rel axis cs:0.816,0.144) {Time interval d};
\end{axis}

\begin{axis}[scale only axis, xmode=log, tick align=outside,
  major tick length=2.5pt, minor tick length=1.4pt,
  tick style={black, line width=0.5pt}, axis line style={line width=0.8pt},
  tick label style={font=\tickfont},
  major grid style={dotted, black!60, line width=0.45pt}, minor grid style={black!9, line width=0.4pt},
  xtick pos=bottom, ytick pos=left, grid=both,
  xtick={10,100,1000,10000,100000,1000000}, xticklabels={\tp{1},\tp{2},\tp{3},\tp{4},\tp{5},\tp{6}},
  minor xtick={8,9,20,30,40,50,60,70,80,90,200,300,400,500,600,700,800,900,2000,3000,4000,5000,6000,7000,8000,9000,2e4,3e4,4e4,5e4,6e4,7e4,8e4,9e4,2e5,3e5,4e5,5e5,6e5,7e5,8e5,9e5,2e6,3e6},
  xlabel={Energy [keV]}, xlabel style={font=\labfont, at={(axis description cs:0.5,-0.42)}, anchor=center},
  ylabel={χ}, ylabel style={font=\labfont, anchor=center, at={(axis description cs:-0.115,0.48)}},
  ymin=-3.98, ymax=4.49, ytick={-2.5,0,2.5}, yticklabels={−2.5,0.0,2.5},
  minor ytick={-3.5,-3,-2,-1.5,-1,-0.5,0.5,1,1.5,2,3,3.5,4},
  at={(394.5pt,-424pt)}, anchor=north west, width=269.5pt, height=50pt, xmin=7.64, xmax=3.92e6]
\addplot[only marks, mark=*, mark size=1.15pt, color=cBlue, error bars/.cd, y dir=both, y fixed=0.9, error mark=none, error bar style={line width=0.8pt,cBlue}] table[x=E,y=r] {\dSix};
\addplot[only marks, mark=*, mark size=1.15pt, color=cCyan, error bars/.cd, y dir=both, y fixed=0.9, error mark=none, error bar style={line width=0.8pt,cCyan}] table[x=E,y=r] {\dSeven};
\addplot[only marks, mark=*, mark size=1.15pt, color=cDGreen, error bars/.cd, y dir=both, y fixed=0.9, error mark=none, error bar style={line width=0.8pt,cDGreen}] table[x=E,y=r] {\dEight};
\addplot[only marks, mark=*, mark size=1.1pt, color=cRed, error bars/.cd, x dir=both, x explicit, y dir=both, y fixed=0.9, error mark=none, error bar style={line width=0.9pt,cRed}] table[x=E,y=r,x error minus=em,x error plus=ep] {\dBGO};
\addplot[only marks, mark=*, mark size=0.7pt, color=cMag, error bars/.cd, x dir=both, x explicit, y dir=both, y fixed=0.8, error mark=none, error bar style={line width=0.9pt,cMag}] table[x=E,y=r,x error minus=em,x error plus=ep] {\dLAT};
\addplot[zl] coordinates {(5,0) (5e6,0)};
\end{axis}
\end{tikzpicture}
\end{document}
